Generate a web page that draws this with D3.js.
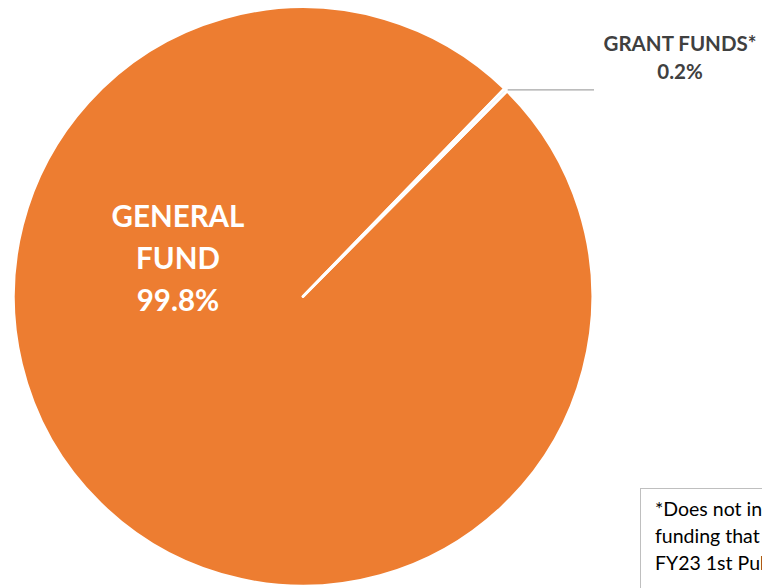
<!DOCTYPE html>
<html>
<head>
<meta charset="utf-8">
<script src="https://cdn.jsdelivr.net/npm/d3@7"></script>
<style>
  html, body { margin: 0; padding: 0; background: #ffffff; overflow: hidden; }
  svg { display: block; }
</style>
</head>
<body>
<svg id="chart" width="762" height="588"></svg>
<script>
// Funding sources, share of total budget (%)
const categories = ["GENERAL FUND", "GRANT FUNDS*"];
const shares = [99.8, 0.2];
const sliceColors = ["#ED7D31", "#EEF2F8"];
const footnoteLines = [
  "*Does not include ARPA",
  "funding that was approved in",
  "FY23 1st Public Hearing"
];

const width = 762, height = 588;
const cx = 303, cy = 296.5, radius = 289.5;
const labelColor = "#404040";

const svg = d3.select("#chart");

// first slice rotated so the small slice sits on the upper-right
const rotation = 44.8 * Math.PI / 180;
const pie = d3.pie().sort(null)
  .startAngle(rotation)
  .endAngle(rotation + 2 * Math.PI);
const arcs = pie(shares);

const arc = d3.arc().innerRadius(0).outerRadius(radius);

const g = svg.append("g").attr("transform", `translate(${cx},${cy})`);

g.selectAll("path.slice")
  .data(arcs)
  .join("path")
  .attr("class", "slice")
  .attr("d", arc)
  .attr("fill", (d, i) => sliceColors[i])
  .attr("stroke", "#ffffff")
  .attr("stroke-width", 2.6)
  .attr("stroke-linejoin", "round");

// Large slice label, inside the pie
const mainLines = categories[0].split(" ").concat([`${shares[0]}%`]);
svg.append("text")
  .attr("x", 178)
  .attr("y", 227)
  .attr("text-anchor", "middle")
  .attr("fill", "#ffffff")
  .attr("font-family", "Lato, 'Open Sans', sans-serif")
  .attr("font-weight", "bold")
  .attr("font-size", 29.5)
  .selectAll("tspan")
  .data(mainLines)
  .join("tspan")
  .attr("x", 178)
  .attr("dy", (d, i) => i === 0 ? 0 : 42)
  .text(d => d);

// Small slice label with leader line
const small = arcs[1];
const midAngle = (small.startAngle + small.endAngle) / 2;
const edgeX = cx + radius * Math.sin(midAngle);
const edgeY = cy - radius * Math.cos(midAngle);
svg.append("path")
  .attr("d", `M${edgeX + 2},${edgeY} L594,${edgeY}`)
  .attr("stroke", "#a6a6a6")
  .attr("stroke-width", 1.3)
  .attr("fill", "none");

svg.append("text")
  .attr("x", 680)
  .attr("y", 51)
  .attr("text-anchor", "middle")
  .attr("fill", labelColor)
  .attr("font-family", "Lato, 'Open Sans', sans-serif")
  .attr("font-weight", "bold")
  .attr("font-size", 20.5)
  .selectAll("tspan")
  .data([categories[1], `${shares[1]}%`])
  .join("tspan")
  .attr("x", 680)
  .attr("dy", (d, i) => i === 0 ? 0 : 28)
  .text(d => d);

// Footnote box, running off the lower-right corner
const note = svg.append("g");
note.append("rect")
  .attr("x", 640.5)
  .attr("y", 488.5)
  .attr("width", 300)
  .attr("height", 140)
  .attr("fill", "#ffffff")
  .attr("stroke", "#bfbfbf")
  .attr("stroke-width", 1);
note.append("text")
  .attr("x", 655)
  .attr("y", 516)
  .attr("fill", "#000000")
  .attr("font-family", "Lato, 'Open Sans', sans-serif")
  .attr("font-size", 19.5)
  .selectAll("tspan")
  .data(footnoteLines)
  .join("tspan")
  .attr("x", 655)
  .attr("dy", (d, i) => i === 0 ? 0 : 27)
  .text(d => d);
</script>
</body>
</html>
